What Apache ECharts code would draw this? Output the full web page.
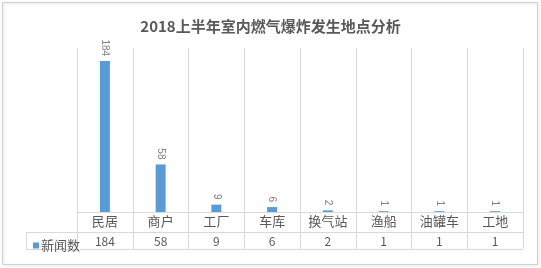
<!DOCTYPE html>
<html>
<head>
<meta charset="utf-8">
<script src="https://cdn.jsdelivr.net/npm/echarts@6/dist/echarts.min.js"></script>
<style>
html, body { margin: 0; padding: 0; background: #fff; }
#main { width: 541px; height: 268px; }
</style>
</head>
<body>
<div id="main"></div>
<script>
// 数据
let categories = ['民居', '商户', '工厂', '车库', '换气站', '渔船', '油罐车', '工地'];
let newsCounts = [184, 58, 9, 6, 2, 1, 1, 1];
let seriesName = '新闻数';

let myChart = echarts.init(document.getElementById('main'));
let lineColor = '#d9d9d9';
let textColor = '#595959';
let fontCJK = '"Noto Sans CJK SC", "Microsoft YaHei", sans-serif';

let option = {
    animation: false,
    title: {
        text: '2018上半年室内燃气爆炸发生地点分析',
        left: 'center',
        top: 14,
        textStyle: {
            fontSize: 15,
            fontWeight: 'bold',
            color: textColor,
            fontFamily: fontCJK
        }
    },
    legend: {
        left: 28,
        top: 234,
        icon: 'rect',
        itemWidth: 6,
        itemHeight: 6,
        itemGap: 2,
        textStyle: {
            fontSize: 13,
            color: textColor,
            fontFamily: fontCJK,
            padding: [0, 0, 0, -3]
        },
        data: [seriesName]
    },
    grid: {
        left: 77,
        right: 18,
        top: 48,
        bottom: 56
    },
    xAxis: [{
        type: 'category',
        data: categories,
        axisLine: { lineStyle: { color: lineColor } },
        axisTick: {
            show: true,
            length: 37,
            interval: 0,
            lineStyle: { color: lineColor }
        },
        axisLabel: {
            interval: 0,
            margin: 3,
            fontSize: 13,
            color: textColor,
            fontFamily: fontCJK
        },
        splitLine: {
            show: true,
            interval: 0,
            lineStyle: { color: lineColor }
        }
    }, {
        // 表格中的数值行
        type: 'category',
        position: 'bottom',
        offset: 20,
        data: newsCounts.map(v => String(v)),
        axisLine: { show: false },
        axisTick: { show: false },
        axisLabel: {
            interval: 0,
            margin: 3,
            fontSize: 12,
            color: textColor,
            fontFamily: fontCJK
        }
    }],
    yAxis: {
        type: 'value',
        min: 0,
        max: 200,
        show: false,
        splitLine: { show: false }
    },
    series: [{
        name: seriesName,
        type: 'bar',
        xAxisIndex: 0,
        barWidth: 10,
        data: newsCounts,
        itemStyle: { color: '#5b9bd5' },
        label: {
            show: true,
            position: 'top',
            rotate: -90,
            align: 'right',
            verticalAlign: 'middle',
            distance: 5,
            fontSize: 10,
            color: '#7f7f7f',
            fontFamily: 'Liberation Sans, sans-serif'
        }
    }],
    graphic: [{
        type: 'rect',
        shape: { x: 2.5, y: 2.5, width: 535, height: 262 },
        style: {
            fill: 'none',
            stroke: '#d0d0d0',
            lineWidth: 1,
            shadowBlur: 3,
            shadowColor: 'rgba(0,0,0,0.15)',
            shadowOffsetX: 1,
            shadowOffsetY: 1
        },
        z: -1
    }, {
        type: 'line',
        shape: { x1: 26, y1: 232.5, x2: 523, y2: 232.5 },
        style: { stroke: lineColor, lineWidth: 1 }
    }, {
        type: 'line',
        shape: { x1: 26, y1: 249.5, x2: 523, y2: 249.5 },
        style: { stroke: lineColor, lineWidth: 1 }
    }, {
        type: 'line',
        shape: { x1: 26.5, y1: 232, x2: 26.5, y2: 250 },
        style: { stroke: lineColor, lineWidth: 1 }
    }]
};
myChart.setOption(option);
</script>
</body>
</html>
